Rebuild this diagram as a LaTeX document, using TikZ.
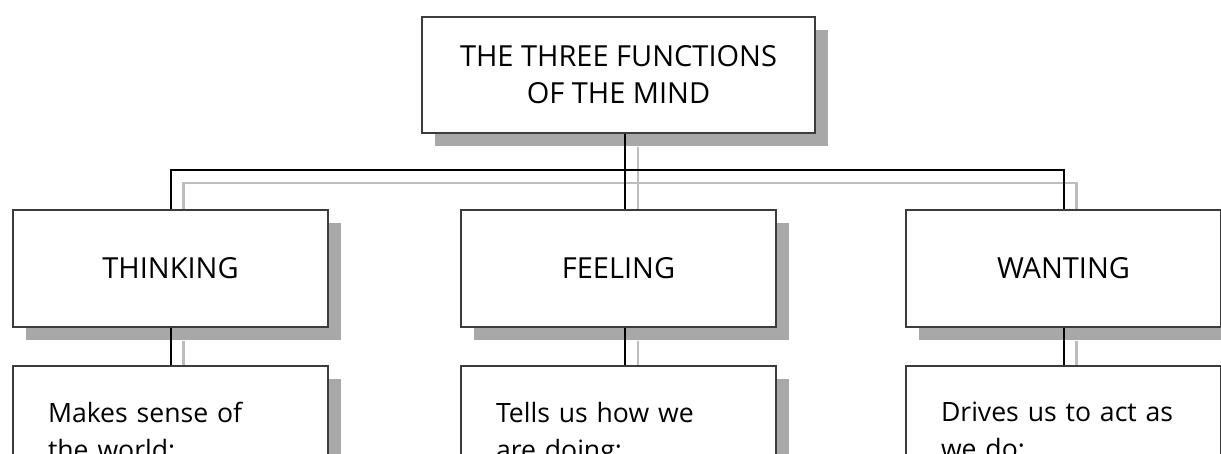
\documentclass[tikz,border=0pt]{standalone}
\usepackage{fontspec}
\setmainfont{Open Sans}
\usetikzlibrary{shadows,backgrounds}

\definecolor{boxline}{HTML}{3C3C3C}
\definecolor{shade}{HTML}{A8A8A8}
\definecolor{shadeline}{HTML}{BDBDBD}

\tikzset{
  box/.style={draw=boxline, line width=0.9pt, fill=white,
    font=\fontsize{14.5}{18.5}\selectfont,
    drop shadow={shadow xshift=6.5pt, shadow yshift=-6.5pt, fill=shade, opacity=1}},
  headbox/.style={box, align=center, minimum width=157.5pt, minimum height=58.5pt},
  textbox/.style={box, align=left, text width=122.5pt, inner xsep=17.5pt,
    inner ysep=18pt, anchor=north, font=\fontsize{13.3}{18.5}\selectfont},
  wire/.style={line width=1pt, black},
  shadewire/.style={line width=1.3pt, shadeline},
}

\begin{document}
\begin{tikzpicture}[x=0.5pt, y=-0.5pt]
    \useasboundingbox (0,0) rectangle (1221,454);
    \node[box, align=center, minimum width=196.5pt, minimum height=58pt] (mind) at (618.5,75) {THE THREE FUNCTIONS\\OF THE MIND};
    \node[headbox] (think) at (170.5,268.5) {THINKING};
    \node[headbox] (feel) at (618.5,268.5) {FEELING};
    \node[headbox] (want) at (1063.5,268.5) {WANTING};
    \node[textbox] (thinktext) at (170.5,365) {Makes sense of\\the world:};
    \node[textbox] (feeltext) at (618.5,365) {Tells us how we\\are doing:};
    \node[textbox] (wanttext) at (1063.5,365) {Drives us to act as\\we do:};
    \coordinate (bar) at (625,170);
    % grey copies of the connectors, behind the boxes
    \begin{pgfonlayer}{background}
    \begin{scope}[shadewire, transform canvas={shift={(6.5pt,-6.5pt)}}]
        \draw (think.north) |- (bar) -| (want.north);
        \draw ([xshift=3.25pt]mind.south) -- ([xshift=3.25pt]feel.north);
        \draw (think.south) -- (thinktext.north);
        \draw ([xshift=3.25pt]feel.south) -- ([xshift=3.25pt]feeltext.north);
        \draw (want.south) -- (wanttext.north);
    \end{scope}
    \end{pgfonlayer}
    \draw[wire] (think.north) |- (bar) -| (want.north);
    \draw[wire] ([xshift=3.25pt]mind.south) -- ([xshift=3.25pt]feel.north);
    \draw[wire] (think.south) -- (thinktext.north);
    \draw[wire] ([xshift=3.25pt]feel.south) -- ([xshift=3.25pt]feeltext.north);
    \draw[wire] (want.south) -- (wanttext.north);
\end{tikzpicture}
\end{document}
